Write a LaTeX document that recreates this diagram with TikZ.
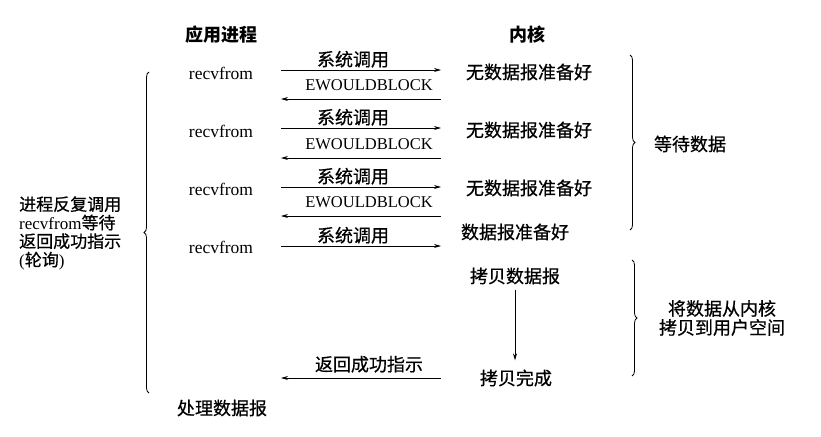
\documentclass[tikz,border=0pt]{standalone}
\usepackage{fontspec}
\setmainfont{Liberation Serif}
\newfontfamily\cjk[FakeBold=0.6]{Noto Sans CJK SC}
\newfontfamily\cjkhead{Noto Sans CJK SC}
\usetikzlibrary{arrows.meta,decorations.pathreplacing}
\begin{document}
\begin{tikzpicture}[x=1pt,y=-1pt,
  zh/.style={font=\cjk\fontsize{18}{20}\selectfont, inner sep=0pt},
  zhb/.style={font=\cjkhead\bfseries\fontsize{18}{20}\selectfont, inner sep=0pt},
  en/.style={font=\fontsize{17.5}{20}\selectfont, inner sep=0pt},
  enc/.style={font=\fontsize{16.5}{18}\selectfont, inner sep=0pt},
  msg/.style={line width=0.8pt, -{Stealth[length=7pt,width=4pt]}},
  brc/.style={line width=0.8pt, decorate, decoration={brace, amplitude=5pt}}]
\path[use as bounding box, fill=white] (0,0) rectangle (821,436);

% headers
\node[zhb] (happ) at (221,35) {应用进程};
\node[zhb] (hker) at (527,35) {内核};

% application side
\node[en] (r1) at (221,73) {recvfrom};
\node[en] (r2) at (221,131) {recvfrom};
\node[en] (r3) at (221,189) {recvfrom};
\node[en] (r4) at (221,247) {recvfrom};
\node[zh] (proc) at (222,408) {处理数据报};

% kernel side
\node[zh] (k1) at (529,72) {无数据报准备好};
\node[zh] (k2) at (529,130) {无数据报准备好};
\node[zh] (k3) at (529,188) {无数据报准备好};
\node[zh] (k4) at (515,232) {数据报准备好};
\node[zh] (k5) at (515,276) {拷贝数据报};
\node[zh] (k6) at (516,378) {拷贝完成};

% arrow end points
\foreach \n/\y in {s1/70, e1/99, s2/128, e2/158, s3/187, e3/216, s4/246, ret/378} {
  \coordinate (\n L) at (281,\y);
  \coordinate (\n R) at (441,\y);
}

% system calls
\draw[msg] (s1L) -- node[zh, above=2pt, xshift=-8pt] (ls1) {系统调用} (s1R);
\draw[msg] (s2L) -- node[zh, above=2pt, xshift=-8pt] (ls2) {系统调用} (s2R);
\draw[msg] (s3L) -- node[zh, above=2pt, xshift=-8pt] (ls3) {系统调用} (s3R);
\draw[msg] (s4L) -- node[zh, above=2pt, xshift=-8pt] (ls4) {系统调用} (s4R);

% EWOULDBLOCK returns
\draw[msg] (e1R) -- node[enc, above=7.5pt, xshift=8pt] (le1) {EWOULDBLOCK} (e1L);
\draw[msg] (e2R) -- node[enc, above=7.5pt, xshift=8pt] (le2) {EWOULDBLOCK} (e2L);
\draw[msg] (e3R) -- node[enc, above=7.5pt, xshift=8pt] (le3) {EWOULDBLOCK} (e3L);

% success return
\draw[msg] (retR) -- node[zh, above=5pt, xshift=8pt] (lret) {返回成功指示} (retL);

% copy arrow
\draw[msg, shorten <=5pt, shorten >=9pt] (k5.south) -- (k5.south |- k6.north);

% braces
\coordinate (lbT) at (149,72);
\coordinate (lbB) at (149,393);
\draw[brc] (lbB) -- (lbT);
\coordinate (rb1T) at (630,55);
\coordinate (rb1B) at (630,230);
\draw[brc] (rb1T) -- (rb1B);
\coordinate (rb2T) at (632,260);
\coordinate (rb2B) at (632,376);
\draw[brc] (rb2T) -- (rb2B);

% brace labels
\node[zh, anchor=west, align=left, font=\cjk\fontsize{17}{18.5}\selectfont] (poll) at (19,233)
  {进程反复调用\\{\fontspec{Liberation Serif}recvfrom}等待\\返回成功指示\\{\fontspec{Liberation Serif}(}轮询{\fontspec{Liberation Serif})}};
\node[zh] (wait) at (690,144) {等待数据};
\node[zh, align=center, font=\cjk\fontsize{18}{19}\selectfont] (copy) at (722,318) {将数据从内核\\拷贝到用户空间};
\end{tikzpicture}
\end{document}
